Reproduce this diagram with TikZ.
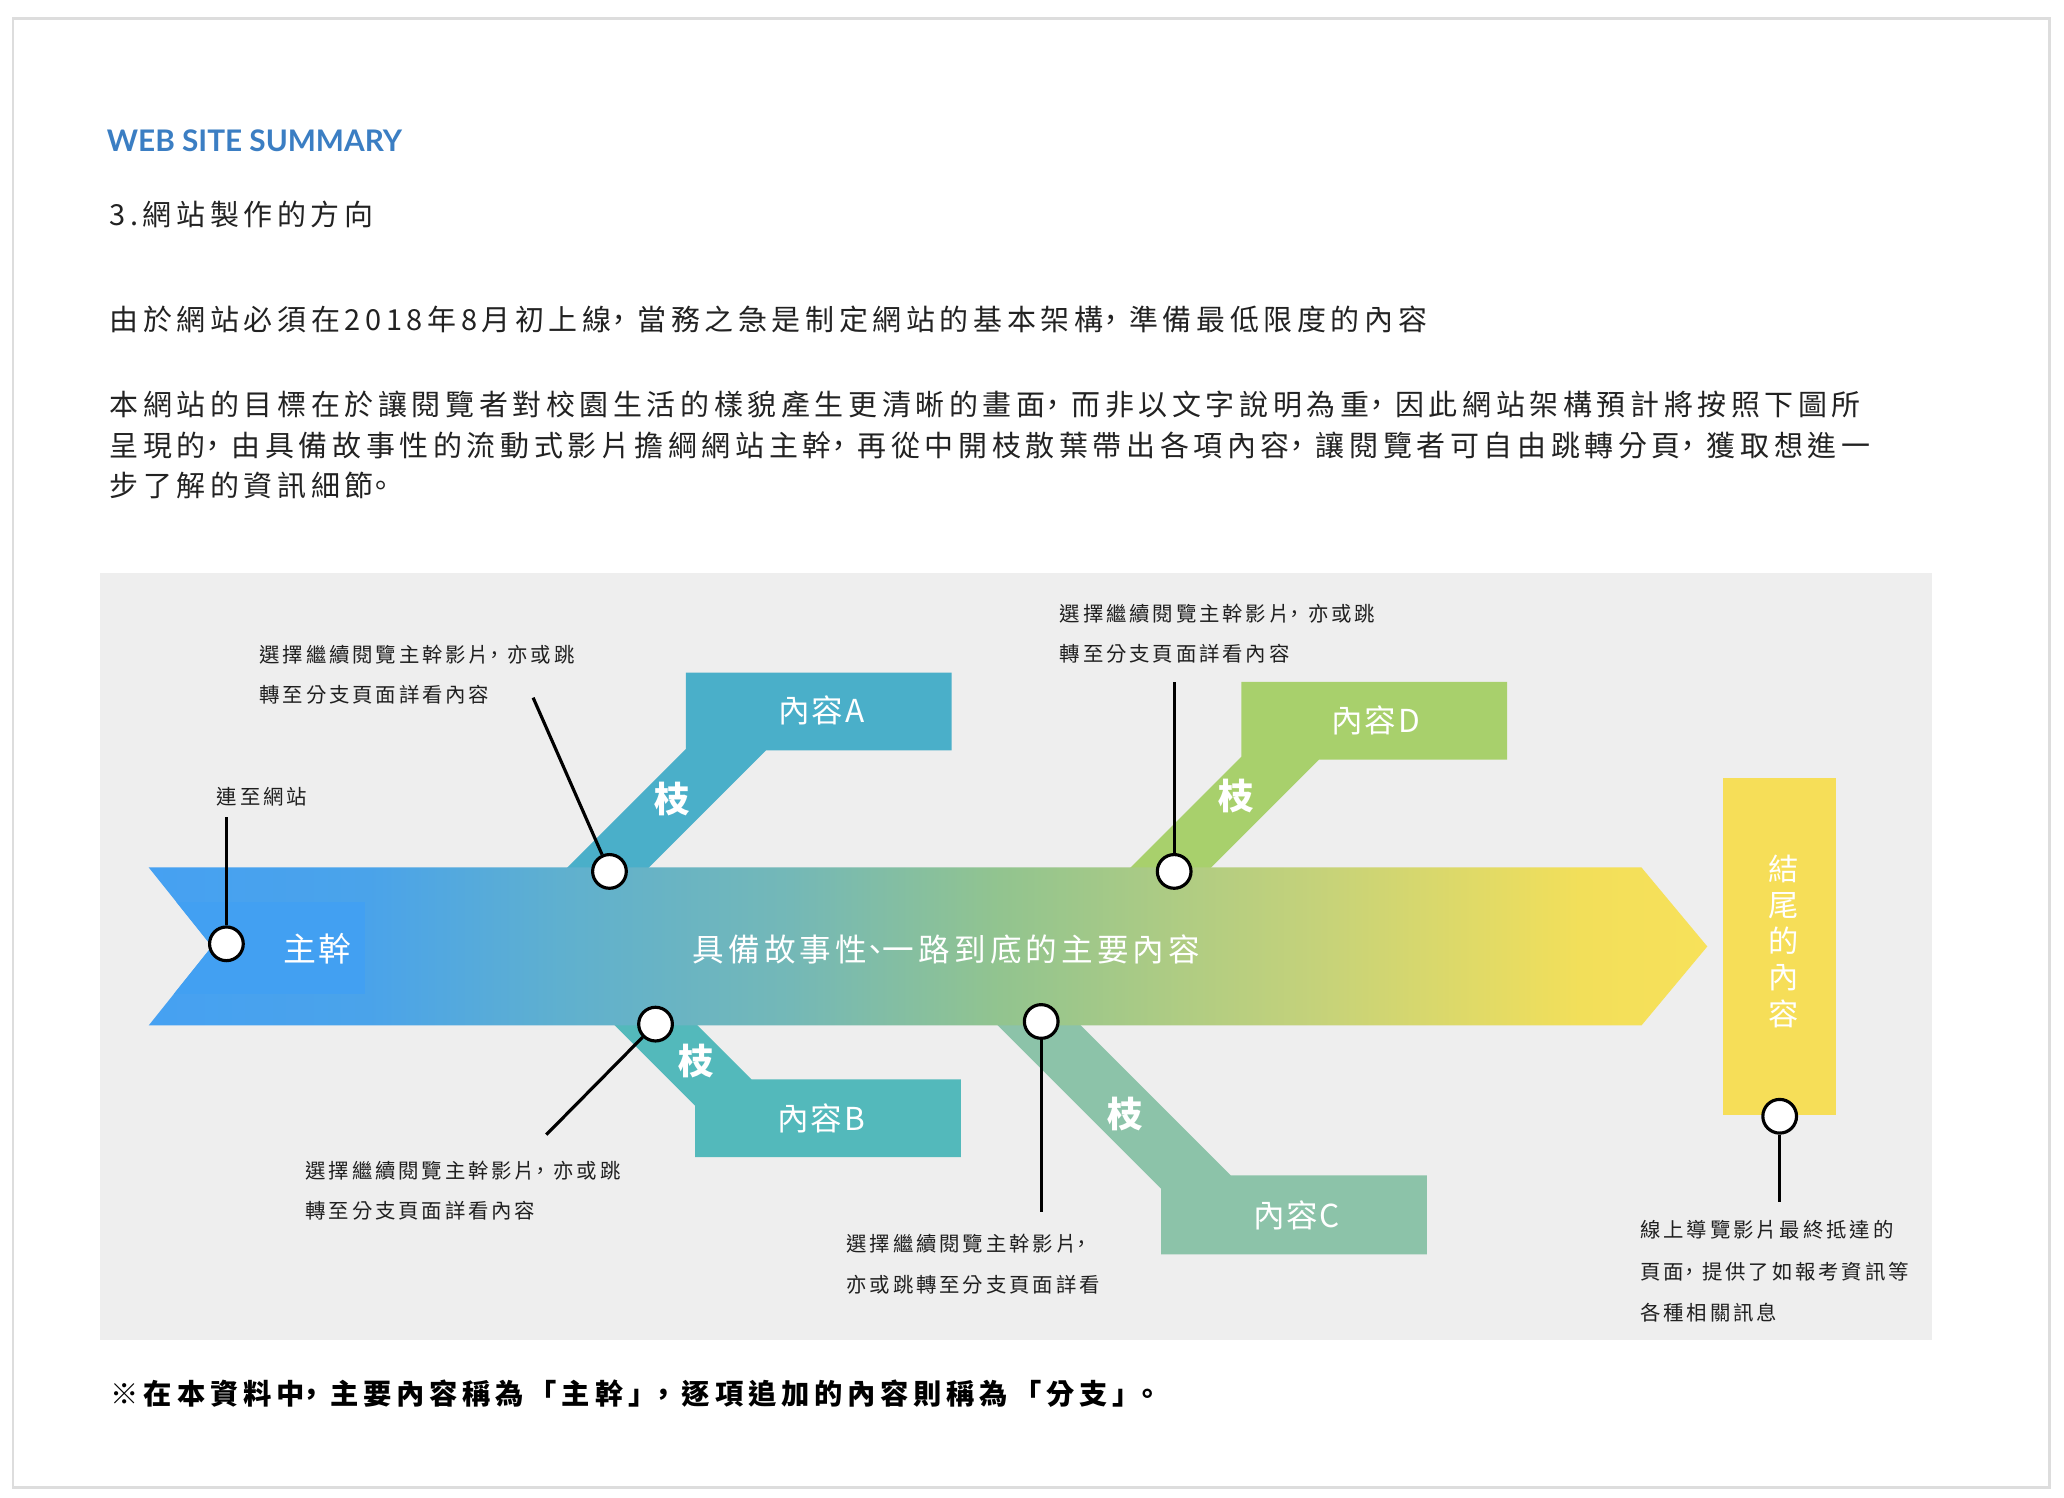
\documentclass[tikz,border=0pt]{standalone}
\usepackage{fontspec}
\setmainfont{Noto Sans CJK TC}
\newfontfamily\bodyfont[LetterSpace=16]{Noto Sans CJK TC}
\newfontfamily\lblfam[LetterSpace=14]{Noto Sans CJK TC}
\newfontfamily\wfont[LetterSpace=6]{Noto Sans CJK TC}
\newfontfamily\notefam[LetterSpace=17]{Noto Sans CJK TC}
\newfontfamily\latinfam{Lato}
\newcommand\pk[1]{{\addfontfeatures{RawFeature=+palt}#1}}
\newcommand\pn[1]{\pk{#1}\kern.4em\relax}
\definecolor{framec}{HTML}{DDDDDD}
\definecolor{panelc}{HTML}{EEEEEE}
\definecolor{titlec}{HTML}{3B7EC3}
\definecolor{txtc}{HTML}{222222}
\definecolor{brA}{HTML}{4AAFC9}
\definecolor{brB}{HTML}{53B9BB}
\definecolor{brC}{HTML}{8CC3A9}
\definecolor{brD}{HTML}{A8D06C}
\definecolor{endc}{HTML}{F6DE58}
\definecolor{trunkbox}{HTML}{42A0F2}
\definecolor{g1}{HTML}{46A1F2}
\definecolor{g2}{HTML}{4AA3EA}
\definecolor{g3}{HTML}{5FB0CF}
\definecolor{g4}{HTML}{74B8B7}
\definecolor{g5}{HTML}{92C48F}
\definecolor{g6}{HTML}{C5D27A}
\definecolor{g7}{HTML}{F2DF5A}
\definecolor{g8}{HTML}{F7E15A}
\pgfdeclarehorizontalshading{trunkshade}{100bp}{color(0bp)=(g1); color(25bp)=(g1); color(32.05bp)=(g2); color(38.2bp)=(g3); color(45.6bp)=(g4); color(52.3bp)=(g5); color(62.5bp)=(g6); color(70.9bp)=(g7); color(75bp)=(g8); color(100bp)=(g8)}
\tikzset{
  body/.style={anchor=west, inner sep=0, text=txtc, font=\bodyfont\fontsize{22}{26}\selectfont},
  lbl/.style={anchor=west, inner sep=0, text=black!88, font=\lblfam\fontsize{15.5}{18}\selectfont},
  wtxt/.style={inner sep=0, text=white, font=\wfont\fontsize{24}{28}\selectfont},
  zhi/.style={inner sep=0, text=white, font=\wfont\bfseries\fontsize{27}{30}\selectfont},
  pin/.style={circle, draw=black, fill=white, line width=2.4pt, minimum size=25.6pt, inner sep=0},
  con/.style={line width=2.4pt, draw=black},
}
\begin{document}
\begin{tikzpicture}[x=1pt,y=-1pt]
\useasboundingbox (0,0) rectangle (1568,1138);
\fill[white] (0,0) rectangle (1568,1138);
% frame
\draw[framec, line width=2pt] (10,14) rectangle (1557,1130);
% header texts
\node[anchor=west, inner sep=0, text=titlec, font=\latinfam\bfseries\fontsize{22.6}{26}\selectfont] (title) at (81,107) {WEB SITE SUMMARY};
\node[body] (sec) at (83,163) {3.網站製作的方向};
\node[body] (p1) at (83,243) {由於網站必須在2018年8月初上線\pn{，}當務之急是制定網站的基本架構\pn{，}準備最低限度的內容};
\node[body] (p2a) at (83,307) {本網站的目標在於讓閱覽者對校園生活的樣貌產生更清晰的畫面\pn{，}而非以文字說明為重\pn{，}因此網站架構預計將按照下圖所};
\node[body] (p2b) at (83,338) {呈現的\pn{，}由具備故事性的流動式影片擔綱網站主幹\pn{，}再從中開枝散葉帶出各項內容\pn{，}讓閱覽者可自由跳轉分頁\pn{，}獲取想進一};
\node[body] (p2c) at (83,369) {步了解的資訊細節\pk{。}};
% panel
\fill[panelc] (76,435) rectangle (1468,1018);
% branches
\fill[brA] (421,669) -- (521,569) -- (521,511) -- (723,511) -- (723,570) -- (582,570) -- (483,669) -- cycle;
\fill[brD] (849,669) -- (943,575) -- (943,518) -- (1145,518) -- (1145,577) -- (1002,577) -- (910,669) -- cycle;
\fill[brB] (457,769) -- (528,840) -- (528,879) -- (730,879) -- (730,820) -- (571,820) -- (520,769) -- cycle;
\fill[brC] (748,769) -- (882,903) -- (882,953) -- (1084,953) -- (1084,893) -- (935,893) -- (811,769) -- cycle;
% trunk arrow
\path[shading=trunkshade] (113,659) -- (1247,659) -- (1297,719) -- (1247,779) -- (113,779) -- (161,719) -- cycle;
\begin{scope}
\clip (113,659) -- (1247,659) -- (1297,719) -- (1247,779) -- (113,779) -- (161,719) -- cycle;
\fill[trunkbox] (100,685) rectangle (277,755);
\end{scope}
% end box
\fill[endc] (1309,591) rectangle (1395,847);
% white texts
\node[wtxt, font=\wfont\fontsize{25}{28}\selectfont] (trunkname) at (241,721) {主幹};
\node[wtxt, font=\wfont\addfontfeatures{LetterSpace=13}\fontsize{24}{28}\selectfont] (trunktext) at (719,721) {具備故事性\pk{、}一路到底的主要內容};
\node[wtxt] (cA) at (624,540) {內容A};
\node[wtxt] (cD) at (1045,547) {內容D};
\node[wtxt] (cB) at (624,850) {內容B};
\node[wtxt] (cC) at (985,923) {內容C};
\node[zhi] (zA) at (511,607) {枝};
\node[zhi] (zD) at (939,605) {枝};
\node[zhi] (zB) at (529,806) {枝};
\node[zhi] (zC) at (855,846) {枝};
\node[wtxt, align=center, font=\wfont\fontsize{23}{27.5}\selectfont] (endtext) at (1355,715) {結\\尾\\的\\內\\容};
% connector endpoints
\coordinate (eT) at (172,621);
\coordinate (eA) at (405,530);
\coordinate (eD) at (892,518);
\coordinate (eB) at (415,862);
\coordinate (eC) at (791,921);
\coordinate (eE) at (1352,913);
% pins
\node[pin] (pT) at (172,717) {};
\node[pin] (pA) at (463,662) {};
\node[pin] (pD) at (892,662) {};
\node[pin] (pB) at (498,778) {};
\node[pin] (pC) at (791,776) {};
\node[pin] (pE) at (1352,848) {};
\draw[con] (pT) -- (eT);
\draw[con] (pA) -- (eA);
\draw[con] (pD) -- (eD);
\draw[con] (pB) -- (eB);
\draw[con] (pC) -- (eC);
\draw[con] (pE) -- (eE);
% labels
\node[lbl, anchor=center] (lT) at (199,605) {連至網站};
\node[lbl] (lA1) at (197,497) {選擇繼續閱覽主幹影片\pn{，}亦或跳};
\node[lbl] (lA2) at (197,528) {轉至分支頁面詳看內容};
\node[lbl] (lD1) at (805,466) {選擇繼續閱覽主幹影片\pn{，}亦或跳};
\node[lbl] (lD2) at (805,497) {轉至分支頁面詳看內容};
\node[lbl] (lB1) at (232,889) {選擇繼續閱覽主幹影片\pn{，}亦或跳};
\node[lbl] (lB2) at (232,920) {轉至分支頁面詳看內容};
\node[lbl] (lC1) at (643,945) {選擇繼續閱覽主幹影片\pk{，}};
\node[lbl] (lC2) at (643,976) {亦或跳轉至分支頁面詳看};
\node[lbl] (lE1) at (1246,934) {線上導覽影片最終抵達的};
\node[lbl] (lE2) at (1246,966) {頁面\pn{，}提供了如報考資訊等};
\node[lbl] (lE3) at (1246,997) {各種相關訊息};
% note
\node[anchor=west, inner sep=0, text=black, font=\notefam\bfseries\fontsize{21.5}{25}\selectfont] (note) at (84,1059) {※在本資料中\pn{，}主要內容稱為「主幹」\pn{，}逐項追加的內容則稱為「分支」\pk{。}};
\end{tikzpicture}
\end{document}
